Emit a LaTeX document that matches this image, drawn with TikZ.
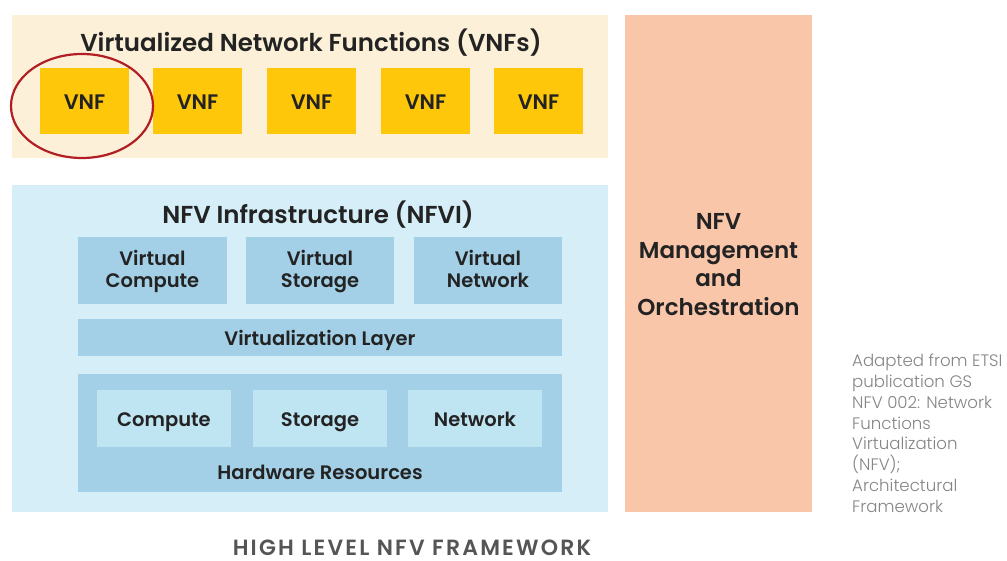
\documentclass[tikz,border=0pt]{standalone}
\usepackage{fontspec}
\setmainfont{Poppins}[BoldFont={Poppins SemiBold}]
\newfontfamily\notefont{Poppins Light}
\usetikzlibrary{positioning}
\definecolor{vnfpanel}{HTML}{FCF1D8}
\definecolor{vnfbox}{HTML}{FFC709}
\definecolor{nfvipanel}{HTML}{D5EEF7}
\definecolor{midblue}{HTML}{A3D0E6}
\definecolor{lightblue}{HTML}{BFE4F2}
\definecolor{mano}{HTML}{F9C6AA}
\definecolor{ringred}{HTML}{B31E24}
\definecolor{ink}{HTML}{232323}
\definecolor{note}{HTML}{858585}
\definecolor{caption}{HTML}{555555}
\tikzset{
  block/.style={anchor=base, inner sep=0, outer sep=0, align=center, text=ink,
    font=\bfseries\fontsize{19.5}{22}\selectfont},
  heading/.style={inner sep=0, text=ink, font=\bfseries\fontsize{24.5}{26}\selectfont},
}
\begin{document}
\begin{tikzpicture}[x=1pt,y=-1pt]
\useasboundingbox[fill=white] (0,0) rectangle (1007,560);

% VNF layer
\fill[vnfpanel] (12,15) rectangle (608,158);
\node[heading] (vnftitle) at (311,43) {Virtualized Network Functions (VNFs)};
\foreach \i/\x in {1/40,2/153,3/267,4/381,5/494}{
  \fill[vnfbox] (\x,68) rectangle ++(89,66);
  \node[block, font=\bfseries\fontsize{21}{22}\selectfont] (vnf\i) at (\x+44.5,109.5) {VNF};
}
\draw[ringred, line width=2.2pt] (82,106) ellipse [x radius=71, y radius=52];

% NFV infrastructure
\fill[nfvipanel] (12,185) rectangle (608,512);
\node[heading] (nfvititle) at (318,215) {NFV Infrastructure (NFVI)};
\fill[midblue] (78,237) rectangle (227,304);
\fill[midblue] (246,237) rectangle (394,304);
\fill[midblue] (414,237) rectangle (562,304);
% two-line labels: the base anchor sits on the last line
\node[block] (vcomp) at (152.5,287) {Virtual\\Compute};
\node[block] (vstor) at (320,287) {Virtual\\Storage};
\node[block] (vnet) at (488,287) {Virtual\\Network};
\fill[midblue] (78,319) rectangle (562,356);
\node[block] (vlayer) at (320,345) {Virtualization Layer};
\fill[midblue] (78,374) rectangle (562,492);
\fill[lightblue] (97,390) rectangle (231,447);
\fill[lightblue] (253,390) rectangle (387,447);
\fill[lightblue] (408,390) rectangle (542,447);
\node[block] (hcomp) at (164,426.5) {Compute};
\node[block] (hstor) at (320,426.5) {Storage};
\node[block] (hnet) at (475,426.5) {Network};
\node[block] (hw) at (320,479) {Hardware Resources};

% Management and orchestration
\fill[mano] (625,15) rectangle (812,512);
\node[block, font=\bfseries\fontsize{23}{28.5}\selectfont] (manotext) at (718.5,315)
  {NFV\\Management\\and\\Orchestration};

% Source note
\node[anchor=north west, align=left, inner sep=0, text=note,
      font=\notefont\fontsize{16.6}{20.8}\selectfont] (source) at (852,354)
  {Adapted from ETSI\\publication GS\\NFV 002: Network\\Functions\\Virtualization\\(NFV);\\Architectural\\Framework};

% Caption
\node[inner sep=0, text=caption, font=\bfseries\fontsize{22}{23}\selectfont\addfontfeatures{LetterSpace=10}] (caption) at (412,547.5) {HIGH LEVEL NFV FRAMEWORK};
\end{tikzpicture}
\end{document}
